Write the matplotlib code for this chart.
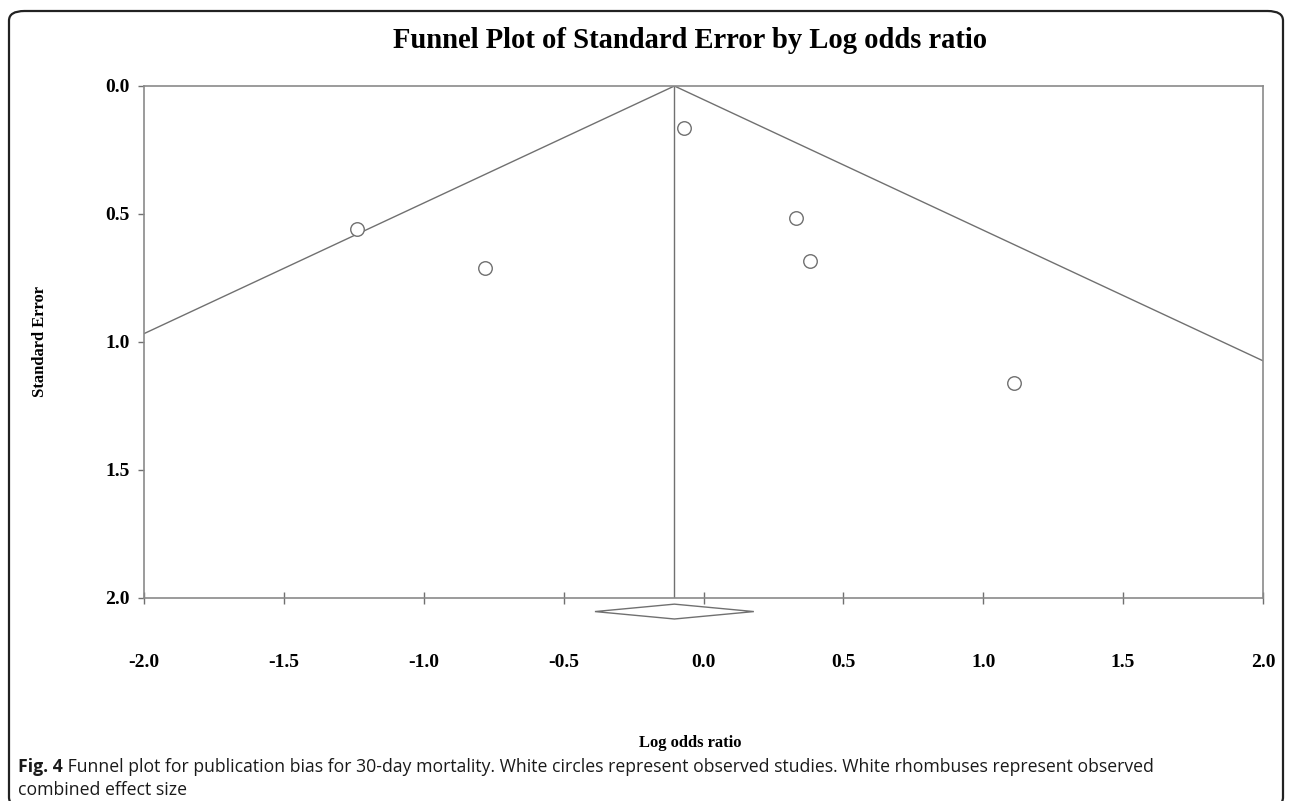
import numpy as np
import matplotlib
matplotlib.use('Agg')
import matplotlib.pyplot as plt
from matplotlib.patches import FancyBboxPatch, Polygon

# 研究数据
log_or = [-1.24, -0.78, -0.07, 0.33, 0.38, 1.11]
std_err = [0.56, 0.71, 0.165, 0.515, 0.685, 1.16]

# 合并效应量及其置信区间
combined = -0.104
ci_low = -0.388
ci_high = 0.180

x_ticks = [-2.0, -1.5, -1.0, -0.5, 0.0, 0.5, 1.0, 1.5, 2.0]
y_ticks = [0.0, 0.5, 1.0, 1.5, 2.0]

title = 'Funnel Plot of Standard Error by Log odds ratio'
caption_bold = 'Fig. 4'
caption_rest = (' Funnel plot for publication bias for 30-day mortality. White circles represent '
                'observed studies. White rhombuses represent observed')
caption_line2 = 'combined effect size'

line_color = '#707070'
serif = ['Liberation Serif', 'DejaVu Serif']

fig = plt.figure(figsize=(12.9, 8.01), dpi=100)
ax = fig.add_axes([144 / 1290, 1 - 598 / 801, (1263 - 144) / 1290, (598 - 86) / 801])

# 漏斗线：合并效应 ± 1.96 * SE
se = np.array([0.0, 2.0])
ax.plot(combined - 1.96 * se, se, color=line_color, lw=1.0)
ax.plot(combined + 1.96 * se, se, color=line_color, lw=1.0)
ax.plot([combined, combined], [0.0, 2.0], color=line_color, lw=1.0)

# 各研究点
ax.scatter(log_or, std_err, s=95, facecolors='white', edgecolors=line_color, linewidths=1.0, zorder=3)

# 合并效应菱形（画在坐标轴下方）
dy = 0.029
yc = 2.053
diamond = Polygon([[ci_low, yc], [combined, yc - dy], [ci_high, yc], [combined, yc + dy]],
                  closed=True, facecolor='white', edgecolor=line_color, lw=1.0, clip_on=False)
ax.add_patch(diamond)

ax.set_xlim(-2.0, 2.0)
ax.set_ylim(2.0, 0.0)
ax.set_xticks(x_ticks)
ax.set_yticks(y_ticks)
ax.set_xticklabels([f'{t:.1f}' for t in x_ticks], fontfamily=serif, fontweight='bold', fontsize=14)
ax.set_yticklabels([f'{t:.1f}' for t in y_ticks], fontfamily=serif, fontweight='bold', fontsize=14)
ax.tick_params(axis='x', direction='inout', length=8, width=1.0, color=line_color, pad=36)
ax.tick_params(axis='y', direction='out', length=4, width=1.0, color=line_color, pad=6)
for sp in ax.spines.values():
    sp.set_color('#8a8a8a')
    sp.set_linewidth(1.2)

fig.text(690 / 1290, 1 - 40 / 801, title, ha='center', va='center',
         fontfamily=serif, fontweight='bold', fontsize=20.6)
fig.text(40 / 1290, 1 - 342 / 801, 'Standard Error', rotation=90, ha='center', va='center',
         fontfamily=serif, fontweight='bold', fontsize=12)
fig.text(690 / 1290, 1 - 743 / 801, 'Log odds ratio', ha='center', va='center',
         fontfamily=serif, fontweight='bold', fontsize=12)

# 图注
cap_font = ['Open Sans', 'DejaVu Sans']
t1 = fig.text(18 / 1290, 1 - 767 / 801, caption_bold, ha='left', va='center',
              fontfamily=cap_font, fontweight='bold', fontsize=12.7, color='#1a1a1a')
fig.canvas.draw()
bb = t1.get_window_extent()
fig.text(bb.x1 / 1290, 1 - 767 / 801, caption_rest, ha='left', va='center',
         fontfamily=cap_font, fontsize=12.7, color='#1a1a1a')
fig.text(18 / 1290, 1 - 790 / 801, caption_line2, ha='left', va='center',
         fontfamily=cap_font, fontsize=12.7, color='#1a1a1a')

# 外框（圆角，底边在图外）
frame = FancyBboxPatch((9 / 1290, -6 / 801), 1274 / 1290, (790 + 6) / 801,
                       boxstyle='round,pad=0,rounding_size=0.012', transform=fig.transFigure,
                       facecolor='none', edgecolor='#222222', lw=1.6, clip_on=False)
fig.patches.append(frame)

fig.savefig('out.png', dpi=100)
